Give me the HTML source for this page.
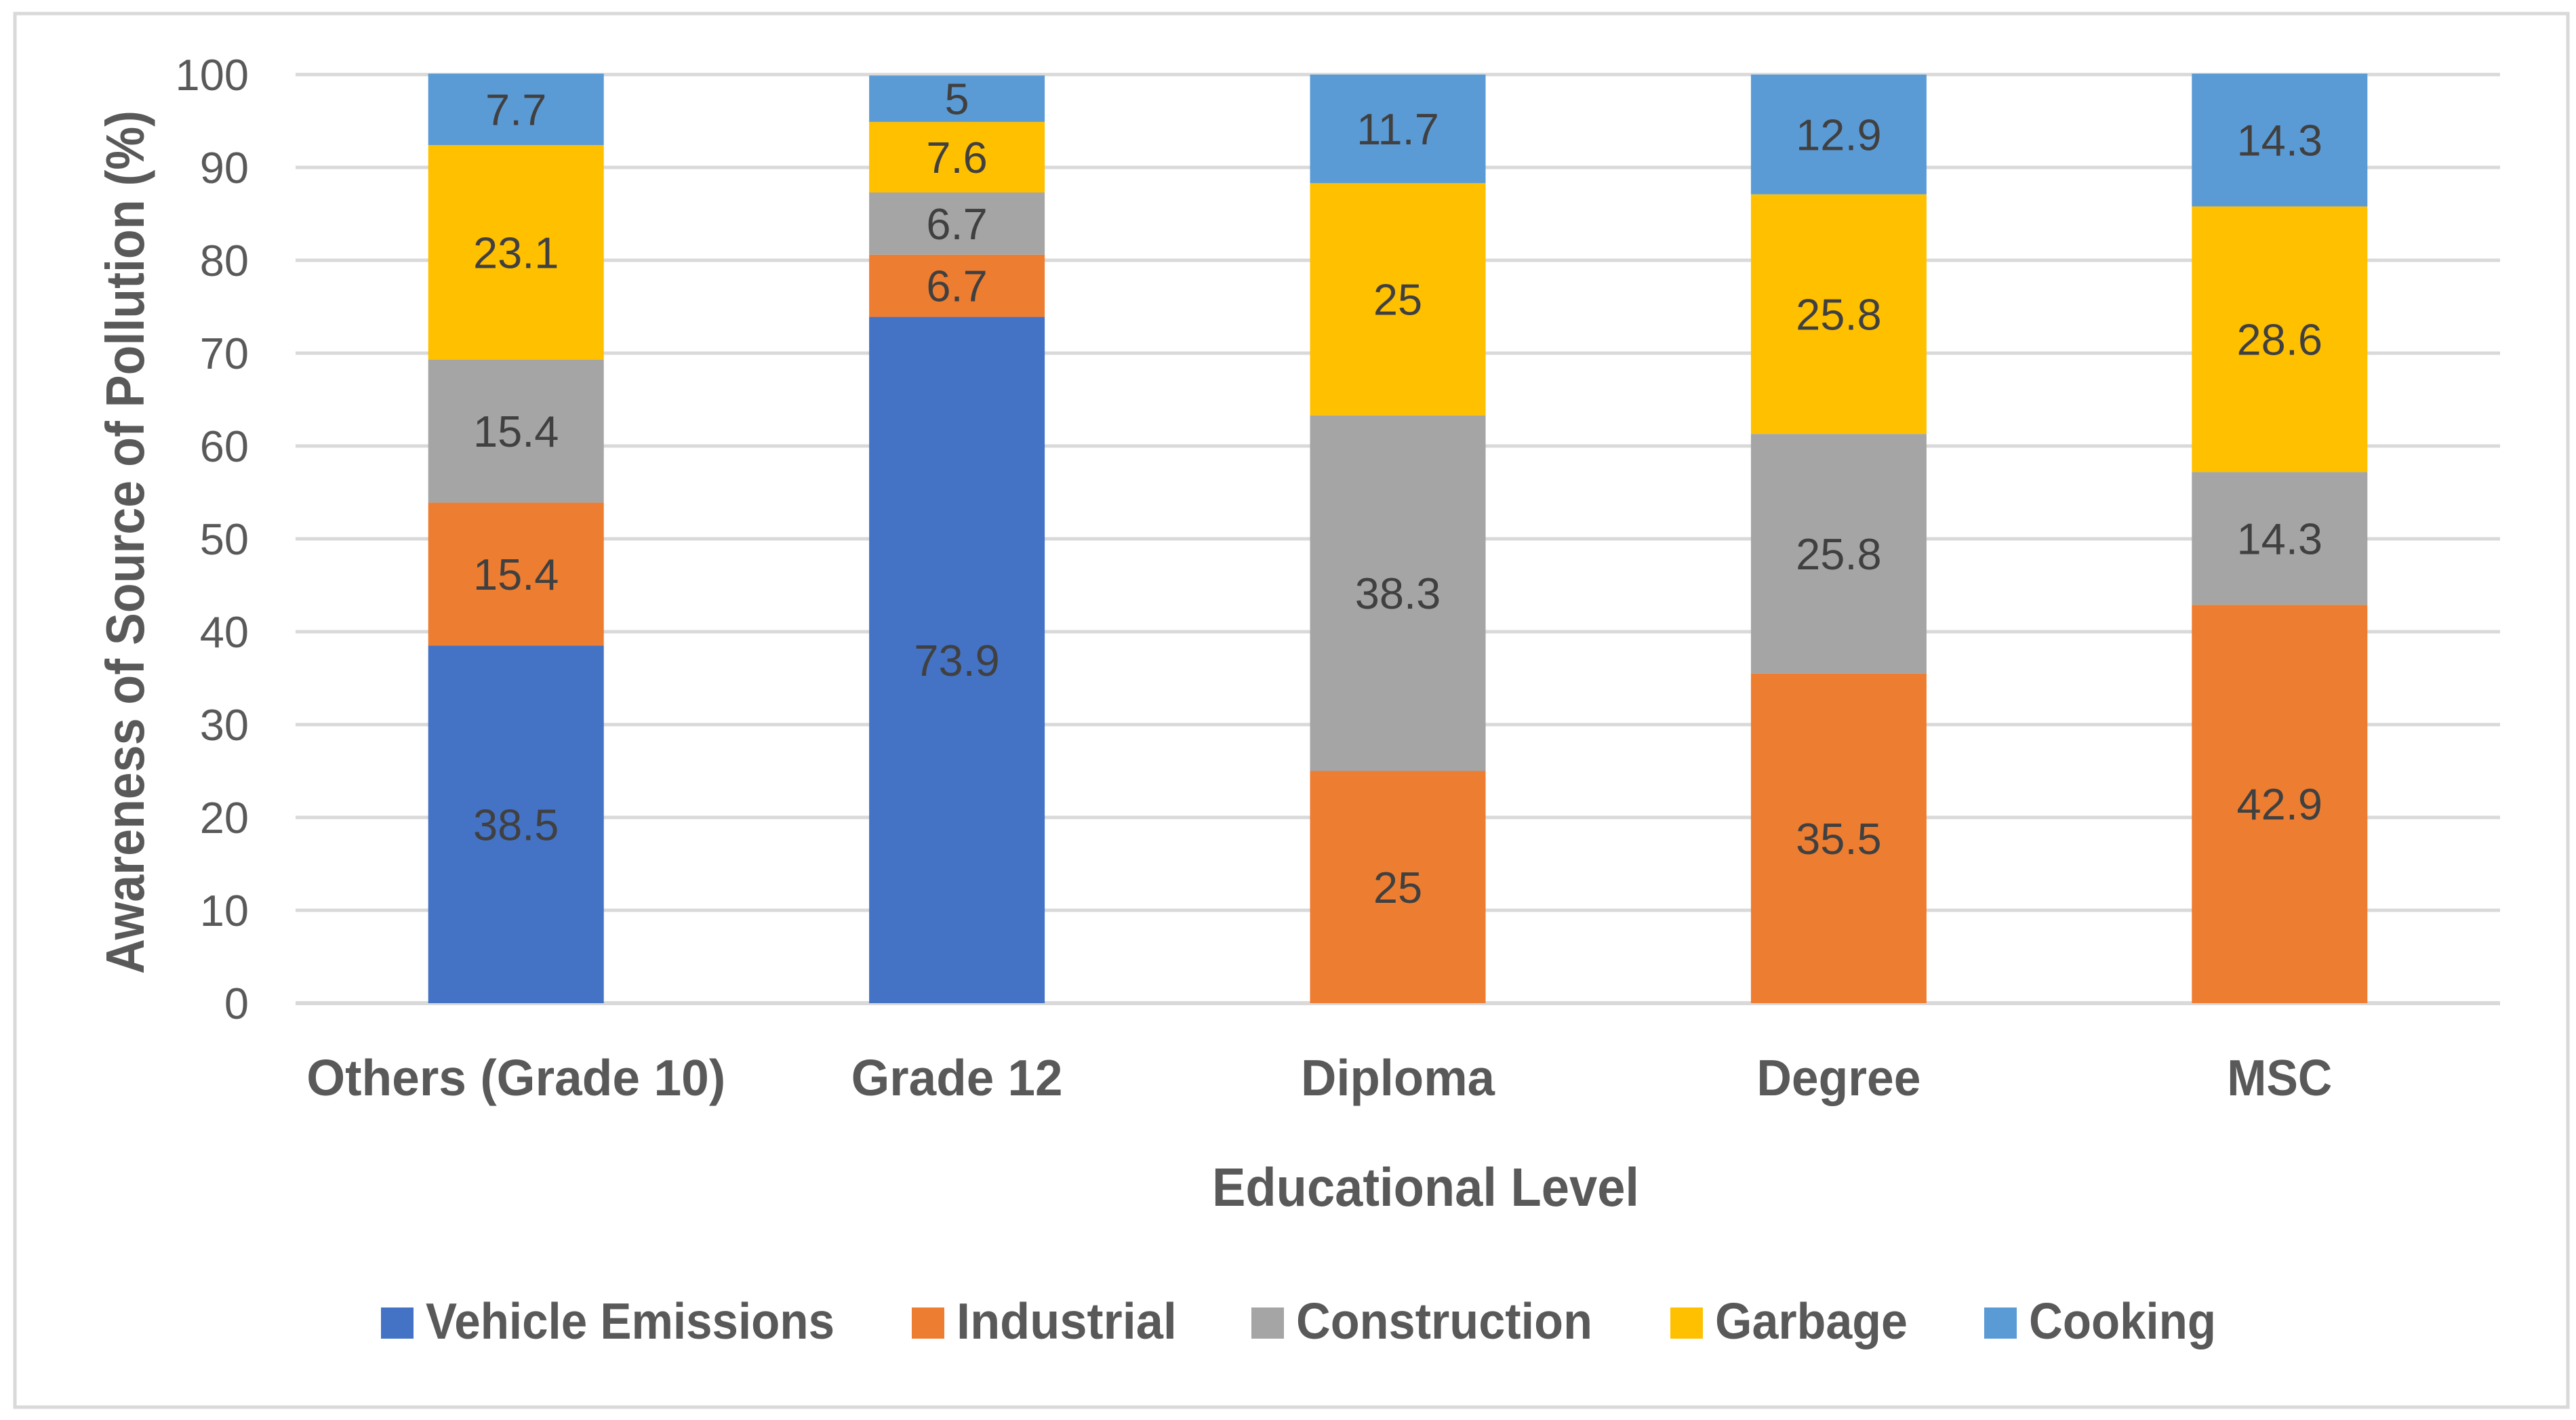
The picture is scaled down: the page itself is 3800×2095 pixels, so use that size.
<!DOCTYPE html>
<html><head><meta charset="utf-8"><style>
html,body{margin:0;padding:0;background:#fff}
svg{display:block}
text{font-family:"Liberation Sans",Arial,sans-serif}
</style></head><body>
<svg id="chart" width="3800" height="2095" viewBox="0 0 3800 2095" xmlns="http://www.w3.org/2000/svg">
<rect x="22" y="20" width="3766" height="2056" fill="#fff" stroke="#d9d9d9" stroke-width="5"/>
<g id="grid"></g>
<g id="yticks"></g>
<g id="bars"></g>
<g id="xlabels"></g>
<text transform="translate(212,800) rotate(-90)" text-anchor="middle" font-size="80" font-weight="bold" fill="#595959" textLength="1274" lengthAdjust="spacingAndGlyphs">Awareness of Source of Pollution (%)</text>
<text x="1788" y="1779" font-size="80" font-weight="bold" fill="#595959" textLength="630" lengthAdjust="spacingAndGlyphs">Educational Level</text>
<g id="legend"></g>
</svg>
<script>
const categories = ["Others (Grade 10)", "Grade 12", "Diploma", "Degree", "MSC"];
const seriesNames = ["Vehicle Emissions", "Industrial", "Construction", "Garbage", "Cooking"];
const vehicle = [38.5, 73.9, 0, 0, 0];
const industrial = [15.4, 6.7, 25, 35.5, 42.9];
const construction = [15.4, 6.7, 38.3, 25.8, 14.3];
const garbage = [23.1, 7.6, 25, 25.8, 28.6];
const cooking = [7.7, 5, 11.7, 12.9, 14.3];
const yTicks = [0, 10, 20, 30, 40, 50, 60, 70, 80, 90, 100];

const series = [vehicle, industrial, construction, garbage, cooking];
const colors = ["#4472C4", "#ED7D31", "#A5A5A5", "#FFC000", "#5B9BD5"];
const NS = "http://www.w3.org/2000/svg";
const plotL = 436, plotR = 3688, yTop = 110, yBot = 1480;
const band = (plotR - plotL) / categories.length;
const barW = 259;
function y(v){ return yBot - (v / 100) * (yBot - yTop); }
function xc(i){ return plotL + band * (i + 0.5); }
function mk(tag, attrs, parent){
  const e = document.createElementNS(NS, tag);
  for (const k in attrs) e.setAttribute(k, attrs[k]);
  parent.appendChild(e);
  return e;
}
const grid = document.getElementById("grid");
const yt = document.getElementById("yticks");
yTicks.forEach(t => {
  const l = mk("line", {x1: plotL, x2: plotR, y1: y(t), y2: y(t), stroke: "#d9d9d9", "stroke-width": t === 0 ? 6 : 5}, grid);
  
  
  const tx = mk("text", {x: 367, y: y(t) + 23, "text-anchor": "end", "font-size": 65, fill: "#595959"}, yt);
  
  
  tx.textContent = t;
});
const bars = document.getElementById("bars");
categories.forEach((c, i) => {
  let base = 0;
  series.forEach((s, k) => {
    const v = s[i];
    if (v > 0) {
      const r = mk("rect", {x: xc(i) - barW / 2, y: y(base + v), width: barW, height: y(base) - y(base + v), fill: colors[k]}, bars);
      
      
      const lb = mk("text", {x: xc(i), y: (y(base) + y(base + v)) / 2 + 23, "text-anchor": "middle", "font-size": 65, fill: "#404040"}, bars);
      
      
      lb.textContent = v;
    }
    base += v;
  });
});
const catW = [618, 312, 286, 242, 155];
const xl = document.getElementById("xlabels");
categories.forEach((c, i) => {
  const t = mk("text", {x: xc(i), y: 1616, "text-anchor": "middle", "font-size": 75, "font-weight": "bold", fill: "#595959", textLength: catW[i], lengthAdjust: "spacingAndGlyphs"}, xl);
  
  
  t.textContent = c;
});
const legX = [562, 1345, 1846, 2464, 2927];
const legTW = [603, 325, 437, 284, 276];
const lg = document.getElementById("legend");
seriesNames.forEach((n, k) => {
  const sw = mk("rect", {x: legX[k], y: 1929, width: 48, height: 46, fill: colors[k]}, lg);
  
  
  const t = mk("text", {x: legX[k] + 66, y: 1975, "font-size": 75, "font-weight": "bold", fill: "#595959", textLength: legTW[k], lengthAdjust: "spacingAndGlyphs"}, lg);
  
  
  t.textContent = n;
});
</script>
</body></html>
